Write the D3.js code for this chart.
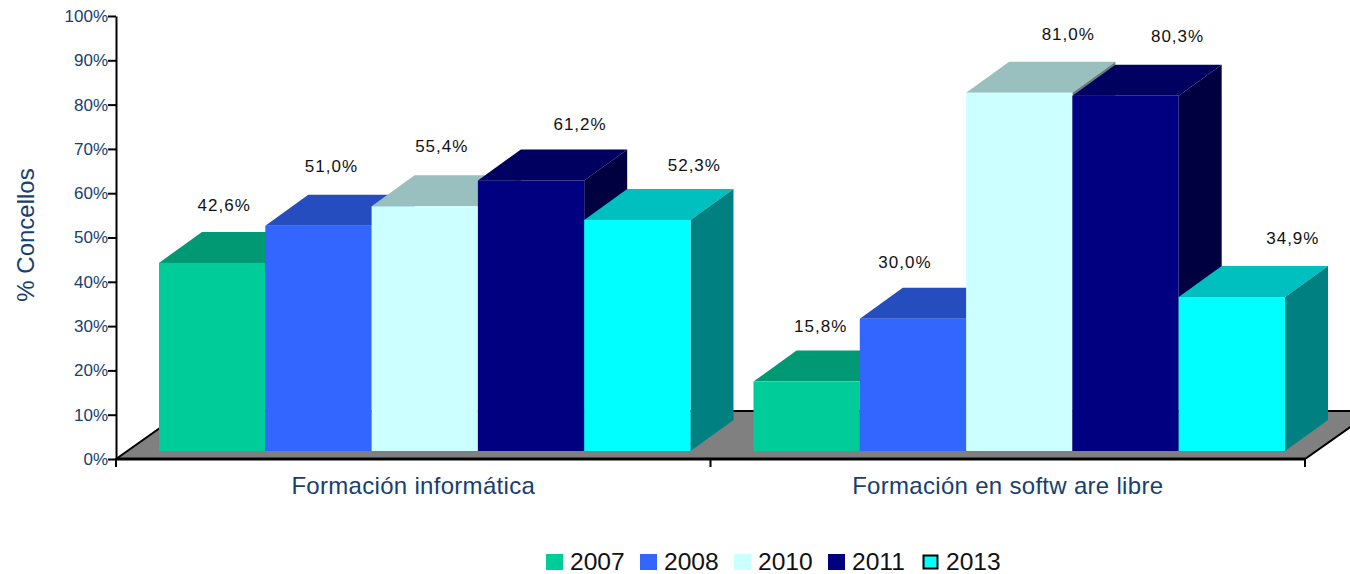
<!DOCTYPE html>
<html>
<head>
<meta charset="utf-8">
<script src="https://cdn.jsdelivr.net/npm/d3@7"></script>
<style>
  html, body { margin: 0; padding: 0; background: #fff; }
  text { font-family: "Liberation Sans", Arial, sans-serif; }
  .axis path, .axis line { stroke: #000; stroke-width: 2px; }
  .axis text { fill: #17406f; font-size: 17px; }
</style>
</head>
<body>
<svg id="chart" width="1350" height="574"></svg>
<script>
var categories = ["Formación informática", "Formación en softw are libre"];
var years = ["2007", "2008", "2010", "2011", "2013"];
var values2007 = [42.6, 15.8];
var values2008 = [51.0, 30.0];
var values2010 = [55.4, 81.0];
var values2011 = [61.2, 80.3];
var values2013 = [52.3, 34.9];
var seriesValues = [values2007, values2008, values2010, values2011, values2013];
var colors = ["#00cc99", "#3366ff", "#ccffff", "#000080", "#00ffff"];
var yTicks = [0, 10, 20, 30, 40, 50, 60, 70, 80, 90, 100];

// hand placed data labels, offset from the middle of the bar front
var labelDx = [[12, 13, 17, 49, 57], [14, -8, 49, 52, 61]];
var labelDy = [[-57, -59, -60, -56, -54], [-55, -56, -58, -59, -58]];

var svg = d3.select("#chart");

var left = 116, right = 1305, baseY = 459, topY = 16;
var depthX = 43, depthY = 31;   // depth of one bar
var floorX = 68, floorY = 48;   // depth of the floor
var barLift = 8;                // bars stand this far behind the floor front edge

var x0 = d3.scaleBand().domain(categories).range([left, right]);
var x1 = d3.scaleBand().domain(years).range([43, 43 + 531.5]);
var y = d3.scaleLinear().domain([0, 100]).range([baseY, topY]);

function shade(c, k) {
    var r = d3.rgb(c);
    return d3.rgb(r.r * k, r.g * k, r.b * k).formatHex();
}

// floor
svg.append("path")
    .attr("d", d3.line()([[left, baseY], [left + floorX, baseY - floorY], [right + floorX, baseY - floorY], [right, baseY]]) + "Z")
    .attr("fill", "#808080")
    .attr("stroke", "#000")
    .attr("stroke-width", 2);

// bars, left to right so each one covers the side of the one before
categories.forEach(function(cat, c) {
    years.forEach(function(year, s) {
        var v = seriesValues[s][c];
        var bx = x0(cat) + x1(year);
        var w = x1.bandwidth();
        var top = y(v) - barLift + 0.6;
        var bottom = y(0) - barLift;
        var g = svg.append("g").attr("class", "bar");

        g.append("path")
            .attr("d", d3.line()([[bx, top], [bx + depthX, top - depthY], [bx + w + depthX, top - depthY], [bx + w, top]]) + "Z")
            .attr("fill", shade(colors[s], 0.75));
        g.append("path")
            .attr("d", d3.line()([[bx + w, top], [bx + w + depthX, top - depthY], [bx + w + depthX, bottom - depthY], [bx + w, bottom]]) + "Z")
            .attr("fill", shade(colors[s], 0.5));
        g.append("rect")
            .attr("x", bx)
            .attr("y", top)
            .attr("width", w)
            .attr("height", bottom - top)
            .attr("fill", colors[s]);
    });
});

// labels go on last
categories.forEach(function(cat, c) {
    years.forEach(function(year, s) {
        var v = seriesValues[s][c];
        svg.append("text")
            .attr("x", x0(cat) + x1(year) + x1.bandwidth() / 2 + labelDx[c][s])
            .attr("y", y(v) - barLift + labelDy[c][s])
            .attr("text-anchor", "middle")
            .attr("dy", "0.35em")
            .attr("font-size", 17)
            .attr("letter-spacing", "1px")
            .attr("fill", "#111")
            .text(v.toFixed(1).replace(".", ",") + "%");
    });
});

// axes
svg.append("g")
    .attr("class", "axis")
    .attr("transform", "translate(" + left + ",0)")
    .call(d3.axisLeft(y).tickValues(yTicks).tickFormat(function(d) { return d + "%"; }).tickSize(8).tickPadding(0).tickSizeOuter(0));

var xAxisTicks = [left, x0(categories[1]), right];
svg.append("line").attr("x1", left).attr("x2", right).attr("y1", baseY).attr("y2", baseY).attr("stroke", "#000").attr("stroke-width", 3);
xAxisTicks.forEach(function(t) {
    svg.append("line").attr("x1", t).attr("x2", t).attr("y1", baseY).attr("y2", baseY + 8).attr("stroke", "#000").attr("stroke-width", 2);
});

svg.selectAll(".cat")
    .data(categories)
    .enter().append("text")
    .attr("class", "cat")
    .attr("x", function(d) { return x0(d) + x0.bandwidth() / 2; })
    .attr("y", 494)
    .attr("text-anchor", "middle")
    .attr("font-size", 24)
    .attr("letter-spacing", "0.3px")
    .attr("fill", "#17406f")
    .text(function(d) { return d; });

svg.append("text")
    .attr("transform", "translate(34,235) rotate(-90)")
    .attr("text-anchor", "middle")
    .attr("font-size", 24)
    .attr("fill", "#17406f")
    .text("% Concellos");

// legend
var legendX = d3.scalePoint().domain(years).range([546, 922]);
years.forEach(function(year, s) {
    if (s === 4) {
        svg.append("rect")
            .attr("x", legendX(year) + 1.5).attr("y", 555.5)
            .attr("width", 14).attr("height", 13)
            .attr("fill", colors[s]).attr("stroke", "#000").attr("stroke-width", 2);
    } else {
        svg.append("rect")
            .attr("x", legendX(year)).attr("y", 554)
            .attr("width", 17).attr("height", 16)
            .attr("fill", colors[s]);
    }
    svg.append("text")
        .attr("x", legendX(year) + 24)
        .attr("y", 569.5)
        .attr("font-size", 24.6)
        .attr("fill", "#111")
        .text(year);
});
</script>
</body>
</html>
